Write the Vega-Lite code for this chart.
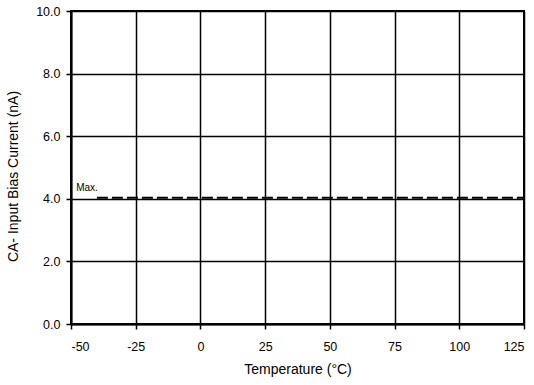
{
  "$schema": "https://vega.github.io/schema/vega-lite/v6.json",
  "width": 453,
  "height": 313,
  "autosize": {"type": "none"},
  "padding": {"left": 71, "top": 11, "right": 10, "bottom": 61},
  "background": "white",
  "config": {
    "view": {"stroke": "black", "strokeWidth": 2},
    "axis": {
      "labelFont": "Liberation Sans",
      "titleFont": "Liberation Sans",
      "labelColor": "black",
      "titleColor": "black",
      "labelFontSize": 12.5,
      "titleFontWeight": "normal",
      "gridColor": "black",
      "gridOpacity": 1,
      "gridWidth": 1.5,
      "tickColor": "black",
      "tickWidth": 1.5,
      "domainColor": "black",
      "tickSize": 5
    }
  },
  "datasets": {
    "limit": [
      {"temp": -40, "current": 4.03},
      {"temp": 125, "current": 4.03}
    ],
    "label": [
      {"temp": -48, "current": 4.25, "text": "Max."}
    ]
  },
  "layer": [
    {
      "data": {"name": "limit"},
      "mark": {"type": "line", "color": "black", "strokeWidth": 2, "strokeDash": [11, 4]},
      "encoding": {
        "x": {
          "field": "temp", "type": "quantitative",
          "scale": {"domain": [-50, 125], "nice": false, "zero": false},
          "axis": {
            "values": [-50, -25, 0, 25, 50, 75, 100, 125],
            "labelExpr": "datum.value + ''",
            "title": "Temperature (°C)",
            "titleFontSize": 14,
            "titlePadding": 10,
            "labelPadding": 11,
            "domainWidth": 2
          }
        },
        "y": {
          "field": "current", "type": "quantitative",
          "scale": {"domain": [0, 10], "nice": false},
          "axis": {
            "values": [0, 2, 4, 6, 8, 10],
            "format": ".1f",
            "title": "CA- Input Bias Current (nA)",
            "titleFontSize": 14,
            "titlePadding": 15,
            "titleY": 165,
            "labelPadding": 6,
            "domainWidth": 2
          }
        }
      }
    },
    {
      "data": {"name": "label"},
      "mark": {"type": "text", "font": "Liberation Sans", "fontSize": 10, "align": "left", "baseline": "alphabetic", "color": "black"},
      "encoding": {
        "x": {"field": "temp", "type": "quantitative"},
        "y": {"field": "current", "type": "quantitative"},
        "text": {"field": "text"}
      }
    }
  ]
}
